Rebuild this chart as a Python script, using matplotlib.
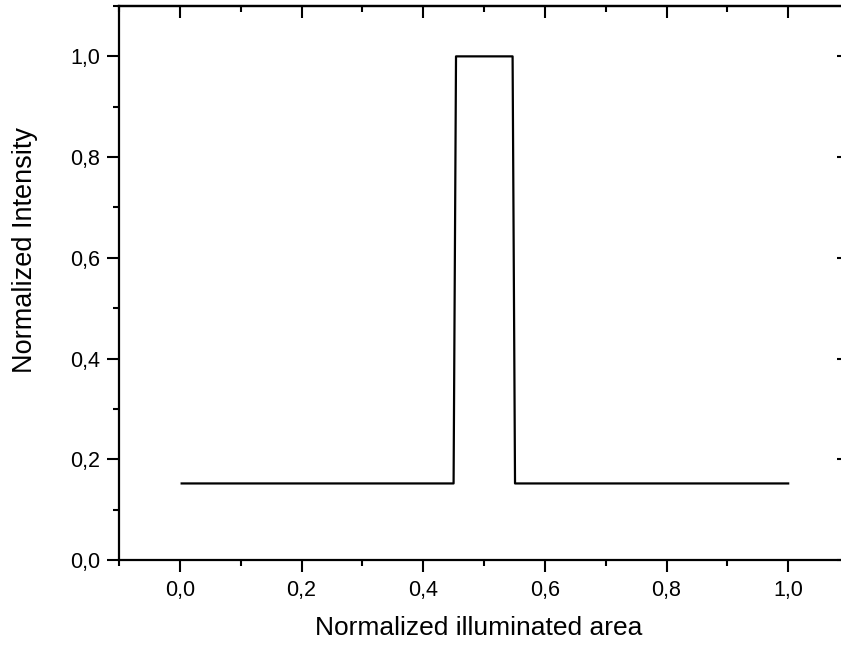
import matplotlib
matplotlib.use("Agg")
import matplotlib.pyplot as plt
from matplotlib.ticker import MultipleLocator, FuncFormatter

plt.rcParams['font.family'] = ['Liberation Sans', 'DejaVu Sans']

x_vals = [0.003, 0.450, 0.454, 0.547, 0.551, 1.0]
y_vals = [0.152, 0.152, 1.0, 1.0, 0.152, 0.152]
xlabel = "Normalized illuminated area"
ylabel = "Normalized Intensity"
ticks = [0, 0.2, 0.4, 0.6, 0.8, 1.0]

W, H = 841, 645
fig = plt.figure(figsize=(W/100, H/100), dpi=100)
ax = fig.add_axes([119/W, 1 - 560/H, 730/W, 554/H])
ax.plot(x_vals, y_vals, color='black', lw=1.6)
ax.set_xlim(-0.1, 1.1)
ax.set_ylim(0, 1.1)

for s in ax.spines.values():
    s.set_linewidth(1.6)

fmt = FuncFormatter(lambda v, p: f"{v:.1f}".replace('.', ','))
ax.set_xticks(ticks)
ax.set_yticks(ticks)
ax.xaxis.set_minor_locator(MultipleLocator(0.1))
ax.yaxis.set_minor_locator(MultipleLocator(0.1))
ax.xaxis.set_major_formatter(fmt)
ax.yaxis.set_major_formatter(fmt)

ax.tick_params(axis='both', which='major', direction='out', length=8.5, width=1.5, labelsize=15.5)
ax.tick_params(axis='x', which='major', pad=6)
ax.tick_params(axis='y', which='major', pad=5)
ax.tick_params(axis='both', which='minor', direction='out', length=4.5, width=1.5)
ax.tick_params(top=False, right=False, which='both')

ax2 = ax.secondary_xaxis('top')
ax2.set_xticks(ticks)
ax2.xaxis.set_minor_locator(MultipleLocator(0.1))
ax2.tick_params(which='major', direction='in', length=8.5, width=1.5)
ax2.tick_params(which='minor', direction='in', length=4.5, width=1.5)
ax2.set_xticklabels([])
ax2.spines['top'].set_linewidth(1.6)
ax3 = ax.secondary_yaxis('right')
ax3.set_yticks(ticks)
ax3.yaxis.set_minor_locator(MultipleLocator(0.1))
ax3.tick_params(which='major', direction='in', length=8.5, width=1.5)
ax3.tick_params(which='minor', direction='in', length=4.5, width=1.5)
ax3.set_yticklabels([])
ax3.spines['right'].set_linewidth(1.6)

ax.set_xlabel(xlabel, fontsize=19)
ax.set_ylabel(ylabel, fontsize=19.5)
ax.xaxis.set_label_coords(0.4925, -0.101)
ax.yaxis.set_label_coords(-0.111, 0.5596)

fig.savefig("out.png", dpi=100)
